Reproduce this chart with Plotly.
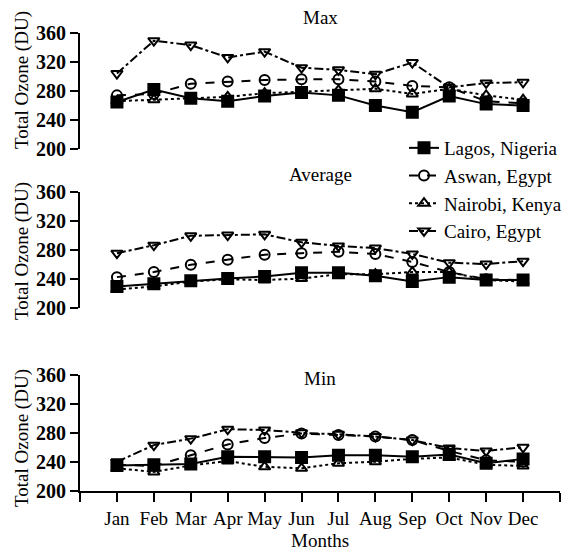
import plotly.graph_objects as go

months = ["Jan", "Feb", "Mar", "Apr", "May", "Jun", "Jul", "Aug", "Sep", "Oct", "Nov", "Dec"]
series_names = ["Lagos, Nigeria", "Aswan, Egypt", "Nairobi, Kenya", "Cairo, Egypt"]

max_lagos = [265, 282, 270, 266, 273, 278, 274, 260, 251, 273, 262, 260]
max_aswan = [274, 276, 290, 293, 295, 296, 296, 293, 287, 285, 266, 263]
max_nairobi = [266, 268, 269, 272, 277, 279, 281, 283, 276, 283, 274, 268]
max_cairo = [304, 349, 343, 326, 334, 312, 309, 303, 319, 285, 291, 292]

avg_lagos = [230, 234, 238, 241, 244, 249, 249, 245, 237, 243, 239, 239]
avg_aswan = [243, 250, 260, 267, 274, 276, 278, 275, 264, 250, 240, 239]
avg_nairobi = [226, 230, 237, 240, 239, 241, 247, 247, 250, 250, 239, 237]
avg_cairo = [276, 287, 300, 301, 302, 291, 286, 283, 275, 263, 261, 265]

min_lagos = [235, 236, 237, 247, 247, 246, 249, 249, 247, 250, 238, 244]
min_aswan = [236, 234, 249, 264, 273, 279, 277, 275, 270, 255, 242, 240]
min_nairobi = [231, 226, 235, 241, 233, 231, 238, 240, 244, 246, 236, 234]
min_cairo = [240, 263, 272, 285, 284, 280, 278, 275, 270, 259, 255, 260]

panel_titles = ["Max", "Average", "Min"]
y_ticks = [200, 240, 280, 320, 360]

panels = [
    [max_lagos, max_aswan, max_nairobi, max_cairo],
    [avg_lagos, avg_aswan, avg_nairobi, avg_cairo],
    [min_lagos, min_aswan, min_nairobi, min_cairo],
]

styles = [
    dict(dash="solid", symbol="square", color="black", size=11),
    dict(dash="dash", symbol="circle-open", color="black", size=10),
    dict(dash="dot", symbol="triangle-up-open", color="black", size=10),
    dict(dash="dashdot", symbol="triangle-down-open", color="black", size=10),
]

FONT = "Liberation Serif"
W, H = 581, 552
ML, MR = 80, 21
PW = W - ML - MR

def py(px):
    return 1 - px / H

def pxx(px):
    return (px - ML) / PW

domains = [
    [py(149.3), py(32.7)],
    [py(308.3), py(192.3)],
    [py(490.7), py(375.0)],
]

fig = go.Figure()
xs = list(range(len(months)))
for p, data in enumerate(panels):
    ax = "" if p == 0 else str(p + 1)
    for s, vals in enumerate(data):
        st = styles[s]
        fig.add_trace(go.Scatter(
            x=xs, y=vals, mode="lines+markers",
            name=series_names[s],
            showlegend=(p == 0),
            line=dict(color="black", width=2, dash=st["dash"]),
            marker=dict(symbol=st["symbol"], size=st["size"], color=st["color"],
                        line=dict(color="black", width=2)),
            xaxis="x" + ax, yaxis="y" + ax,
        ))

layout = dict(
    width=W, height=H,
    margin=dict(l=ML, r=MR, t=0, b=0),
    paper_bgcolor="white", plot_bgcolor="white",
    font=dict(family=FONT, size=19, color="black"),
    showlegend=True,
    legend=dict(x=pxx(404), y=py(129), xanchor="left", yanchor="top",
                bgcolor="rgba(0,0,0,0)", font=dict(size=19, family=FONT),
                tracegroupgap=0, itemwidth=30),
)

for p in range(3):
    ax = "" if p == 0 else str(p + 1)
    xa = dict(domain=[0, 1], range=[-1, 12], anchor="y" + ax, showgrid=False,
              zeroline=False, automargin=False)
    if p < 2:
        xa.update(visible=False)
    else:
        xa.update(showline=True, linecolor="black", linewidth=2,
                  ticks="outside", ticklen=9, tickwidth=2, tickcolor="black",
                  tickmode="array", tickvals=list(range(-1, 13)),
                  ticktext=[""] + months + [""],
                  tickfont=dict(size=19, family=FONT))
    ya = dict(domain=domains[p], range=[200, 360], anchor="x" + ax,
              showgrid=False, zeroline=False, showline=True,
              linecolor="black", linewidth=2, ticks="outside", ticklen=8,
              tickwidth=2, tickcolor="black", tickmode="array",
              tickvals=y_ticks, ticktext=[str(v) for v in y_ticks],
              tickfont=dict(size=20, family=FONT, weight="bold"), automargin=False)
    layout["xaxis" + ax] = xa
    layout["yaxis" + ax] = ya

annotations = []
title_y = [17, 174, 378]
for t, yy in zip(panel_titles, title_y):
    annotations.append(dict(text=t, x=0.5, y=py(yy), xref="paper", yref="paper",
                            xanchor="center", yanchor="middle", showarrow=False,
                            font=dict(size=19, family=FONT)))
for yy in [80, 251, 438]:
    annotations.append(dict(text="Total Ozone (DU)", x=pxx(22), y=py(yy),
                            xref="paper", yref="paper", textangle=-90,
                            xanchor="center", yanchor="middle", showarrow=False,
                            font=dict(size=19, family=FONT)))
annotations.append(dict(text="Months", x=0.5, y=py(540), xref="paper", yref="paper",
                        xanchor="center", yanchor="middle", showarrow=False,
                        font=dict(size=19, family=FONT)))
layout["annotations"] = annotations

fig.update_layout(**layout)
fig.write_html("out.html", config={"displayModeBar": False},
               post_script="document.body.style.margin='0';document.body.style.padding='0';")
